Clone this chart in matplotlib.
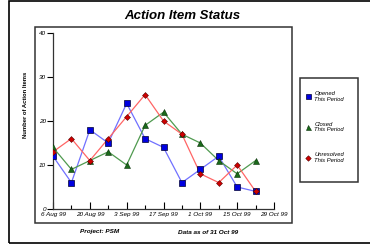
import matplotlib
matplotlib.use("Agg")
import matplotlib.pyplot as plt
import matplotlib.dates as mdates
from matplotlib.patches import Rectangle
from matplotlib.lines import Line2D
from matplotlib.ticker import FixedLocator
import pandas as pd

# weekly report dates and counts
dates = pd.date_range("1999-08-06", periods=12, freq="7D")
opened = [12, 6, 18, 15, 24, 16, 14, 6, 9, 12, 5, 4]
closed = [14, 9, 11, 13, 10, 19, 22, 17, 15, 11, 8, 11]
unresolved = [13, 16, 11, 16, 21, 26, 20, 17, 8, 6, 10, 4]
tick_dates = pd.date_range("1999-08-06", "1999-10-29", freq="14D")
minor_dates = pd.date_range("1999-08-13", "1999-10-22", freq="14D")
tick_labels = ["6 Aug 99", "20 Aug 99", "3 Sep 99", "17 Sep 99", "1 Oct 99", "15 Oct 99", "29 Oct 99"]
legend_labels = ["Opened\nThis Period", "Closed\nThis Period", "Unresolved\nThis Period"]

W, H = 370, 244
fig = plt.figure(figsize=(W / 100, H / 100), dpi=100)
plt.rcParams["font.family"] = "Liberation Sans"

def fx(px):
	return px / W

def fy(py):
	return 1 - py / H

ax = fig.add_axes([fx(53), fy(209), fx(274) - fx(53), fy(33) - fy(209)])
ax.patch.set_alpha(0)

ax.plot(dates, opened, color="#7070ff", lw=0.9, zorder=2)
ax.plot(dates, opened, ls="none", marker="s", ms=3.8, mfc="#0000e0", mec="#000030", mew=0.5, zorder=3)
ax.plot(dates, closed, color="#4f9a4f", lw=0.9, zorder=2)
ax.plot(dates, closed, ls="none", marker="^", ms=3.8, mfc="#1a6a1a", mec="#0a300a", mew=0.4, zorder=3)
ax.plot(dates, unresolved, color="#ff6565", lw=0.9, zorder=2)
ax.plot(dates, unresolved, ls="none", marker="D", ms=3.0, mfc="#d00000", mec="#500000", mew=0.4, zorder=3)

ax.set_xlim(tick_dates[0], tick_dates[-1])
ax.set_ylim(0, 40)
ax.set_xticks(tick_dates)
ax.set_xticklabels(tick_labels, fontsize=4.6, style="italic")
ax.xaxis.set_minor_locator(FixedLocator(mdates.date2num(minor_dates)))
ax.set_yticks([0, 10, 20, 30, 40])
ax.set_yticklabels(["0", "10", "20", "30", "40"], fontsize=4.6, style="italic")
ax.tick_params(axis="x", which="major", direction="in", length=5, width=0.8, pad=2)
ax.tick_params(axis="x", which="minor", direction="in", length=3, width=0.8)
ax.tick_params(axis="y", direction="out", length=4, width=0.8, pad=1)
for s in ["top", "right"]:
	ax.spines[s].set_visible(False)
for s in ["left", "bottom"]:
	ax.spines[s].set_linewidth(0.9)
	ax.spines[s].set_color("#333333")

fig.text(fx(26), fy(105), "Number of Action Items", rotation=90, ha="center", va="center",
	fontsize=4.2, fontweight="bold")
fig.text(fx(182), fy(16), "Action Item Status", ha="center", va="center",
	fontsize=9.5, style="italic", fontweight="bold")
fig.text(fx(100), fy(232), "Project: PSM", ha="center", va="center",
	fontsize=4.6, style="italic", fontweight="bold")
fig.text(fx(178), fy(232), "Data as of 31 Oct 99", ha="left", va="center",
	fontsize=4.6, style="italic", fontweight="bold")

# frames
fig.add_artist(Rectangle((fx(9), fy(243)), fx(380) - fx(9), fy(1) - fy(243),
	transform=fig.transFigure, fill=False, lw=1.2, ec="black"))
fig.add_artist(Rectangle((fx(35), fy(223)), fx(292) - fx(35), fy(27) - fy(223),
	transform=fig.transFigure, fill=False, lw=1.1, ec="#333333"))
fig.add_artist(Rectangle((fx(300), fy(182)), fx(358) - fx(300), fy(78) - fy(182),
	transform=fig.transFigure, fill=False, lw=1.1, ec="#333333"))

handles = [
	Line2D([], [], ls="none", marker="s", ms=3.6, mfc="#0000e0", mec="#000030", mew=0.5),
	Line2D([], [], ls="none", marker="^", ms=3.6, mfc="#1a6a1a", mec="#0a300a", mew=0.4),
	Line2D([], [], ls="none", marker="D", ms=2.8, mfc="#d00000", mec="#500000", mew=0.4),
]
leg = fig.legend(handles, legend_labels, loc="upper left", bbox_to_anchor=(fx(302), fy(88)),
	frameon=False, prop={"size": 4.2, "style": "italic"}, labelspacing=3.4,
	handlelength=1.0, handletextpad=0.6, borderpad=0)

fig.savefig("out.png", dpi=100)
